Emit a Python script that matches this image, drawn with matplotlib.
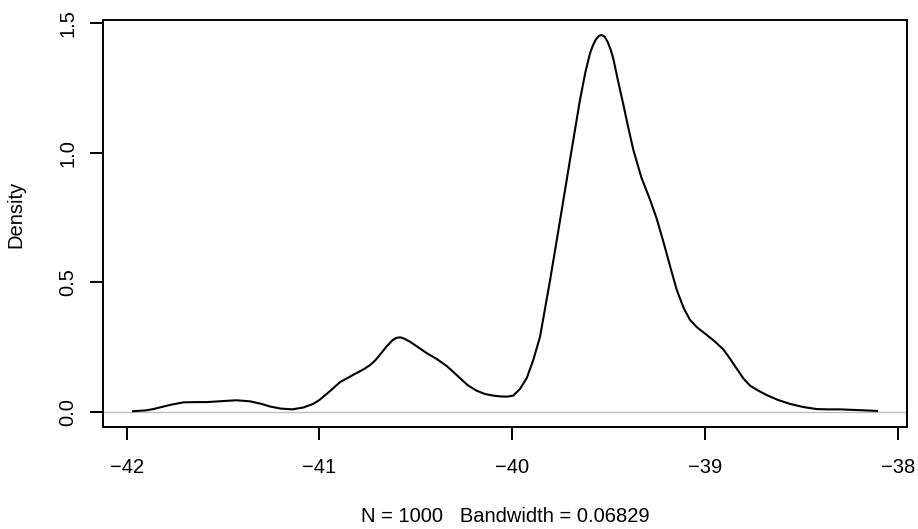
import matplotlib
matplotlib.use("Agg")
import matplotlib.pyplot as plt
from matplotlib.ticker import FormatStrFormatter

plt.rcParams["font.family"] = ["Liberation Sans", "DejaVu Sans"]

# density curve
dens_x = [-41.966, -41.90, -41.862, -41.775, -41.706, -41.645, -41.585, -41.50, -41.429, -41.36,
          -41.30, -41.256, -41.20, -41.14, -41.084, -41.032, -41.00, -40.95, -40.893, -40.83,
          -40.772, -40.74, -40.71, -40.68, -40.651, -40.62, -40.60, -40.58, -40.56, -40.530,
          -40.49, -40.443, -40.39, -40.339, -40.30, -40.270, -40.23, -40.184, -40.14, -40.098,
          -40.062, -40.028, -39.994, -39.959, -39.924, -39.89, -39.855, -39.803, -39.751, -39.70,
          -39.648, -39.62, -39.596, -39.58, -39.565, -39.55, -39.535, -39.52, -39.505, -39.49,
          -39.475, -39.45, -39.423, -39.40, -39.371, -39.33, -39.284, -39.25, -39.215, -39.18,
          -39.146, -39.11, -39.077, -39.04, -38.99, -38.95, -38.904, -38.87, -38.834, -38.80,
          -38.765, -38.72, -38.679, -38.62, -38.558, -38.49, -38.419, -38.36, -38.30, -38.20,
          -38.108]
dens_y = [0.002, 0.005, 0.010, 0.026, 0.036, 0.037, 0.037, 0.041, 0.044, 0.040,
          0.030, 0.020, 0.012, 0.009, 0.016, 0.030, 0.045, 0.076, 0.114, 0.140,
          0.163, 0.178, 0.198, 0.225, 0.252, 0.276, 0.285, 0.287, 0.282, 0.270,
          0.250, 0.226, 0.203, 0.176, 0.150, 0.129, 0.102, 0.081, 0.068, 0.062,
          0.059, 0.058, 0.062, 0.088, 0.130, 0.200, 0.290, 0.508, 0.740, 0.971,
          1.203, 1.310, 1.383, 1.415, 1.437, 1.450, 1.454, 1.447, 1.428, 1.400,
          1.362, 1.275, 1.185, 1.105, 1.010, 0.905, 0.817, 0.745, 0.655, 0.560,
          0.470, 0.400, 0.354, 0.325, 0.296, 0.272, 0.240, 0.205, 0.165, 0.128,
          0.100, 0.080, 0.064, 0.045, 0.030, 0.018, 0.010, 0.009, 0.009, 0.006,
          0.003]

x_ticks = [-42, -41, -40, -39, -38]
y_ticks = [0.0, 0.5, 1.0, 1.5]
x_label = "N = 1000   Bandwidth = 0.06829"
y_label = "Density"

fig = plt.figure(figsize=(9.18, 5.29), dpi=100)
ax = fig.add_axes([0.1125, 0.1934, 0.8752, 0.7688])

ax.axhline(0, color="#bebebe", lw=1.0, zorder=1)
ax.plot(dens_x, dens_y, color="black", lw=1.5, zorder=2)

ax.set_xlim(-42.121, -37.953)
ax.set_ylim(-0.0579, 1.5116)
ax.set_xticks(x_ticks)
ax.set_yticks(y_ticks)
ax.yaxis.set_major_formatter(FormatStrFormatter("%.1f"))

for s in ax.spines.values():
    s.set_linewidth(1.4)
    s.set_color("black")

fs = 14.5
ax.tick_params(axis="both", direction="out", length=9.4, width=1.4, labelsize=fs, colors="black")
ax.tick_params(axis="x", pad=13.0)
ax.tick_params(axis="y", pad=9.0, labelrotation=90)
for t in ax.get_yticklabels():
    t.set_va("center")

ax.set_xlabel(x_label, fontsize=fs)
ax.xaxis.set_label_coords(0.5, -0.198)
ax.xaxis.label.set_va("top")
ax.set_ylabel(y_label, fontsize=fs)
ax.yaxis.set_label_coords(-0.1093, 0.523)
ax.yaxis.label.set_va("center")
ax.yaxis.label.set_ha("center")

fig.savefig("out.png", dpi=100)
